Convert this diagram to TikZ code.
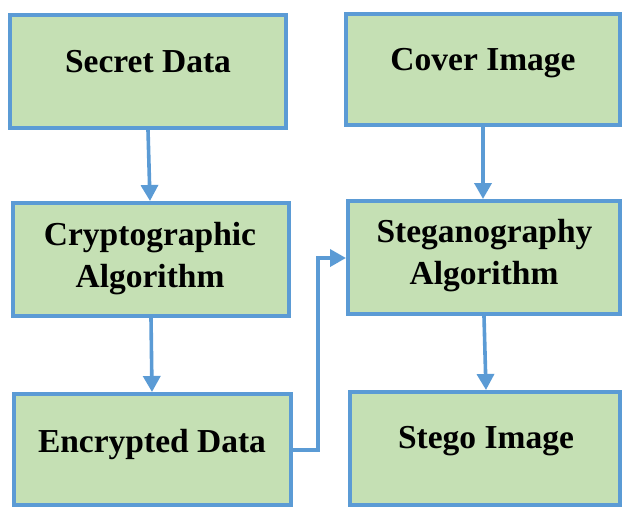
\documentclass[tikz,border=0pt]{standalone}
\usepackage{fontspec}
\setmainfont{Liberation Serif}
\usetikzlibrary{arrows.meta}
\definecolor{boxfill}{HTML}{C5E0B4}
\definecolor{boxline}{HTML}{5B9BD5}
\begin{document}
\begin{tikzpicture}[x=1pt,y=-1pt,
  box/.style={draw=boxline,fill=boxfill,line width=4pt,rectangle,inner sep=0pt},
  lbl/.style={anchor=base,inner sep=0pt,font=\fontsize{33.5}{42}\selectfont\bfseries},
  conn/.style={draw=boxline,line width=3.6pt,-{Triangle[length=16pt,width=17pt]}}]
\useasboundingbox (0,0) rectangle (622,507);
% boxes
\node[box,minimum width=276pt,minimum height=113pt] (secret) at (148,71.5) {};
\node[box,minimum width=274pt,minimum height=111pt] (cover) at (483,69.5) {};
\node[box,minimum width=276pt,minimum height=113pt] (crypto) at (151,259.5) {};
\node[box,minimum width=272pt,minimum height=113pt] (steg) at (484,257.5) {};
\node[box,minimum width=277pt,minimum height=111pt] (encr) at (152.5,449.5) {};
\node[box,minimum width=270pt,minimum height=113pt] (stego) at (485,448.5) {};
% labels
\node[lbl] (tsecret) at (148,72) {Secret Data};
\node[lbl] (tcover) at (483,70) {Cover Image};
\node[lbl] (tcrypto1) at (150,245) {Cryptographic};
\node[lbl] (tcrypto2) at (150,287) {Algorithm};
\node[lbl] (tsteg1) at (484.5,242) {Steganography};
\node[lbl] (tsteg2) at (484,284) {Algorithm};
\node[lbl] (tencr) at (152,452) {Encrypted Data};
\node[lbl] (tstego) at (486,448) {Stego Image};
% connectors
\coordinate (c1) at (318,450);
\coordinate (c2) at (318,258);
\draw[conn] (secret.south -| 148,0) -- (crypto.north -| 150,0);
\draw[conn] (crypto.south -| 151,0) -- (encr.north -| 152,0);
\draw[conn] (cover.south -| 483,0) -- (steg.north -| 483,0);
\draw[conn] (steg.south -| 484,0) -- (stego.north -| 486,0);
\draw[conn] (encr.east |- c1) -- (c1) -- (c2) -- (steg.west |- c2);
\end{tikzpicture}
\end{document}
